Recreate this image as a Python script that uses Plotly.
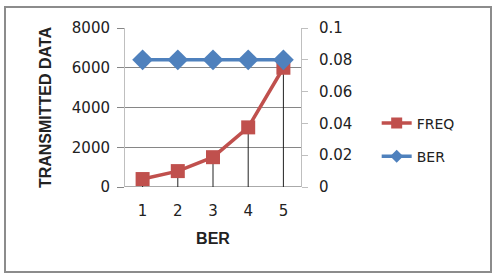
import plotly.graph_objects as go

categories = ["1", "2", "3", "4", "5"]
freq = [400, 800, 1500, 3000, 6000]
ber = [0.08, 0.08, 0.08, 0.08, 0.08]
left_ticks = [0, 2000, 4000, 6000, 8000]
right_ticks = [0, 0.02, 0.04, 0.06, 0.08, 0.1]

RED = "#C0504D"
BLUE = "#4F81BD"
GRID = "#868686"
FONT = "DejaVu Sans"
TFONT = "Liberation Sans"

fig = go.Figure()
fig.add_trace(go.Scatter(
    x=categories, y=freq, name="FREQ", mode="lines+markers",
    line=dict(color=RED, width=3.5),
    marker=dict(symbol="square", size=14, color=RED),
    error_y=dict(type="data", symmetric=False, array=[0] * len(freq),
                 arrayminus=freq, width=0, color="#222222", thickness=1),
    showlegend=False,
))
fig.add_trace(go.Scatter(
    x=categories, y=ber, name="BER", mode="lines+markers", yaxis="y2",
    line=dict(color=BLUE, width=3.5),
    marker=dict(symbol="diamond", size=16, color=BLUE),
    showlegend=False,
))
# legend entries (smaller markers, as in the reference legend)
fig.add_trace(go.Scatter(
    x=[None], y=[None], name="FREQ", mode="lines+markers",
    line=dict(color=RED, width=3.5),
    marker=dict(symbol="square", size=11, color=RED),
    legendgroup="a",
))
fig.add_trace(go.Scatter(
    x=[None], y=[None], name="BER", mode="lines+markers", yaxis="y2",
    line=dict(color=BLUE, width=3.5),
    marker=dict(symbol="diamond", size=10, color=BLUE),
    legendgroup="b",
))

fig.update_layout(
    width=499, height=274,
    margin=dict(l=125, r=198, t=28, b=87),
    paper_bgcolor="white", plot_bgcolor="white",
    font=dict(family=FONT, size=14, color="#222222"),
    showlegend=True,
    legend=dict(x=1.43, y=0.50, xanchor="left", yanchor="top",
                font=dict(family=FONT, size=14, color="#222222"),
                tracegroupgap=12, bgcolor="rgba(0,0,0,0)"),
    xaxis=dict(type="category", range=[-0.5, 4.5],
               showgrid=False, showline=False, zeroline=False,
               ticks="outside", ticklen=10, tickcolor="rgba(0,0,0,0)",
               tickfont=dict(size=15),
               title=dict(text="<b>BER</b>", font=dict(family=TFONT, size=16), standoff=13)),
    yaxis=dict(range=[0, 8000], tickvals=left_ticks,
               showgrid=True, gridcolor=GRID, gridwidth=1,
               showline=True, linecolor="#BFBFBF", linewidth=1,
               zeroline=False,
               ticks="outside", ticklen=7, tickcolor=GRID,
               ticklabelstandoff=4,
               tickfont=dict(size=15),
               title=dict(text="<b>TRANSMITTED DATA</b>", font=dict(family=TFONT, size=16), standoff=16)),
    yaxis2=dict(range=[0, 0.1], tickvals=right_ticks,
                ticktext=["0", "0.02", "0.04", "0.06", "0.08", "0.1"],
                overlaying="y", side="right",
                showgrid=False, showline=True, linecolor="#BFBFBF", linewidth=1,
                zeroline=False,
                ticks="outside", ticklen=6, tickcolor="#BFBFBF",
                ticklabelstandoff=8,
                tickfont=dict(size=15)),
    shapes=[dict(type="rect", xref="paper", yref="paper",
                 x0=-120/176, x1=(491-125)/176, y0=(187-272)/159, y1=(187-7)/159,
                 line=dict(color="#8C8C8C", width=2), fillcolor="rgba(0,0,0,0)",
                 layer="below")],
)
fig.add_shape(type="line", xref="paper", yref="y", x0=0, x1=1, y0=0, y1=0,
              line=dict(color="#555555", width=1), layer="below")

fig.write_html("out.html")
